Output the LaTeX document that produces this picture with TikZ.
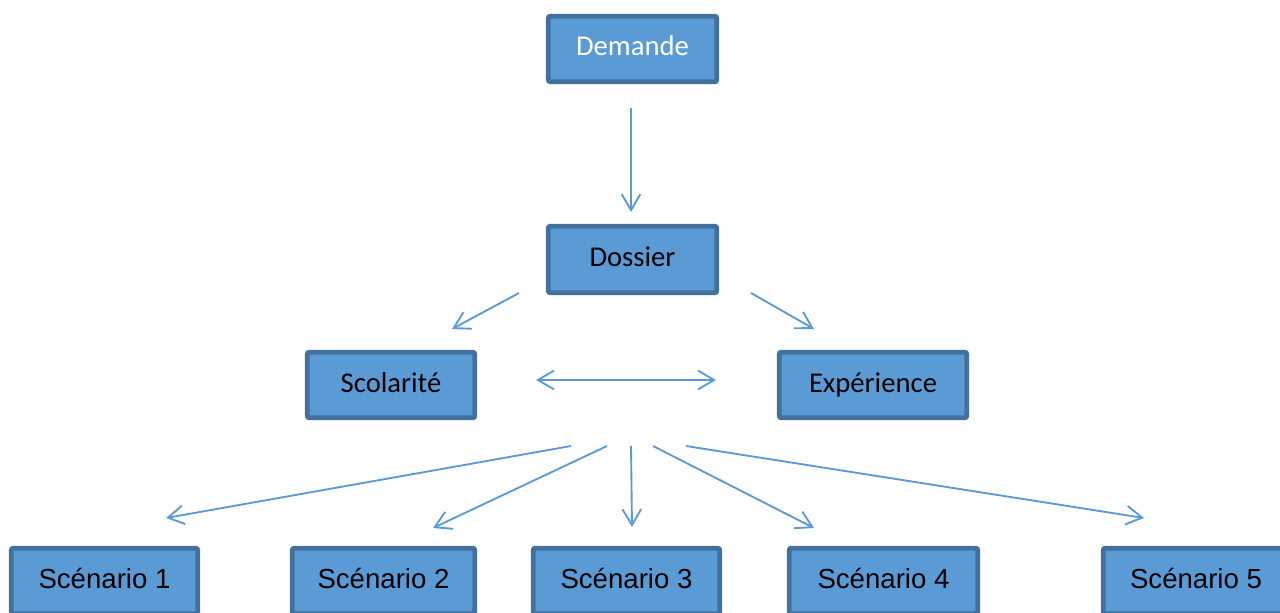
\documentclass[tikz,border=0pt]{standalone}
\usepackage{fontspec}
\setmainfont{Carlito}
\newfontfamily\arialfont{Liberation Sans}
\usetikzlibrary{arrows.meta}
\definecolor{boxfill}{HTML}{5B9BD5}
\definecolor{boxline}{HTML}{41719C}
\definecolor{arrowc}{HTML}{5B9BD5}
\begin{document}
\begin{tikzpicture}[x=0.75pt,y=-0.75pt,
  box/.style={draw=boxline, fill=boxfill, line width=3.6pt, rounded corners=1.5pt,
    inner sep=0pt, minimum height=65.5*0.75pt, text height=15pt, text depth=4.5pt,
    font=\fontsize{21.5}{24}\selectfont},
  scbox/.style={box, font=\arialfont\fontsize{20.7}{24}\selectfont},
  conn/.style={draw=arrowc, line width=1.4pt, -{Straight Barb[length=12pt,width=14pt,line width=1.4pt]}},
  dconn/.style={conn, {Straight Barb[length=12pt,width=14pt,line width=1.4pt]}-{Straight Barb[length=12pt,width=14pt,line width=1.4pt]}}]
\useasboundingbox (0,0) rectangle (1280,613);
\clip (0,0) rectangle (1280,613);
\fill[white] (0,0) rectangle (1280,613);

\node[box, minimum width=168.5*0.75pt, text=white] (demande) at (632.5,49) {Demande};
\node[box, minimum width=168.5*0.75pt, minimum height=66.5*0.75pt] (dossier) at (632.5,259.5) {Dossier};
\node[box, minimum width=167.5*0.75pt] (scol) at (391,385) {Scolarité};
\node[box, minimum width=187.5*0.75pt] (exp) at (873,385) {Expérience};

\node[scbox, minimum width=186.5*0.75pt] (s1) at (104.5,581) {Scénario 1};
\node[scbox, minimum width=182.5*0.75pt] (s2) at (383.5,581) {Scénario 2};
\node[scbox, minimum width=186.5*0.75pt] (s3) at (626.5,581) {Scénario 3};
\node[scbox, minimum width=188.5*0.75pt] (s4) at (883.5,581) {Scénario 4};
\node[scbox, minimum width=185.5*0.75pt] (s5) at (1196,581) {Scénario 5};

% free connector ends
\coordinate (a1s) at (631,108);  \coordinate (a1e) at (631,212);
\coordinate (a2s) at (519,293);  \coordinate (a2e) at (452,329);
\coordinate (a3s) at (751,293);  \coordinate (a3e) at (814,329);
\coordinate (a4s) at (536,380);  \coordinate (a4e) at (716,380);
\coordinate (b1s) at (571,446);  \coordinate (b1e) at (166,518);
\coordinate (b2s) at (607,446);  \coordinate (b2e) at (433,528);
\coordinate (b3s) at (631,446);  \coordinate (b3e) at (632,527);
\coordinate (b4s) at (653,446);  \coordinate (b4e) at (814,528);
\coordinate (b5s) at (686,446);  \coordinate (b5e) at (1144,518);

\draw[conn] (a1s) -- (a1e);
\draw[conn] (a2s) -- (a2e);
\draw[conn] (a3s) -- (a3e);
\draw[dconn] (a4s) -- (a4e);
\draw[conn] (b1s) -- (b1e);
\draw[conn] (b2s) -- (b2e);
\draw[conn] (b3s) -- (b3e);
\draw[conn] (b4s) -- (b4e);
\draw[conn] (b5s) -- (b5e);
\end{tikzpicture}
\end{document}
